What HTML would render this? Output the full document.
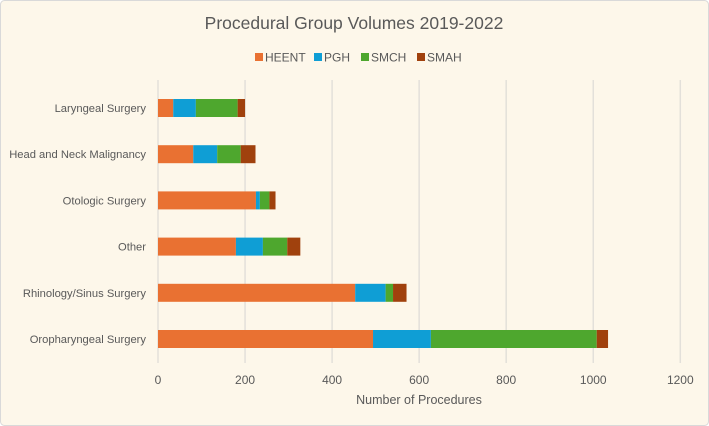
<!DOCTYPE html>
<html><head><meta charset="utf-8"><style>
body{margin:0;background:#fff;}
svg{display:block;font-family:"Liberation Sans",sans-serif;}
</style></head><body>
<svg id="chart" width="709" height="426" xmlns="http://www.w3.org/2000/svg">
<rect x="0.5" y="0.5" width="708" height="425" rx="4" fill="#fdf7ea" stroke="#d9d9d9"/>
<text x="354" y="29" text-anchor="middle" font-size="17.5" fill="#595959">Procedural Group Volumes 2019-2022</text>
<g id="legend"></g>
<g id="grid"></g>
<g id="bars"></g>
<g id="labels"></g>
<text x="419" y="404" text-anchor="middle" font-size="12.5" fill="#595959">Number of Procedures</text>
</svg>
<script>
const categories = ["Laryngeal Surgery","Head and Neck Malignancy","Otologic Surgery","Other","Rhinology/Sinus Surgery","Oropharyngeal Surgery"];
const seriesNames = ["HEENT","PGH","SMCH","SMAH"];
const heent = [35,81,225,179,453,494];
const pgh = [52,55,9,62,70,133];
const smch = [96,54,22,56,17,381];
const smah = [17,34,14,30,31,26];
const ticks = [0,200,400,600,800,1000,1200];
const colors = ["#e97132","#0f9ed5","#4ea72e","#a0410d"];
const NS="http://www.w3.org/2000/svg";
const x0=158, xs=(680.3-158)/1200;
const xScale=v=>x0+v*xs;
const yTop=108, yStep=46.2, bh=18;
const yScale=i=>yTop+i*yStep;
function mk(tag,attrs,parent){const e=document.createElementNS(NS,tag);for(const k in attrs)e.setAttribute(k,attrs[k]);parent.appendChild(e);return e;}
const grid=document.getElementById('grid'), bars=document.getElementById('bars'), labels=document.getElementById('labels'), legend=document.getElementById('legend');
ticks.forEach(t=>{
  const l=mk('line',{x1:xScale(t),x2:xScale(t),y1:80,y2:363,stroke:"#e3e0da","stroke-width":1.5},grid);
  
  
  const tx=mk('text',{x:xScale(t),y:384,"text-anchor":"middle","font-size":12,fill:"#595959"},labels);
  tx.textContent=t;
  
  
});
const series=[heent,pgh,smch,smah];
categories.forEach((c,i)=>{
  const cy=yScale(i);
  const tx=mk('text',{x:146,y:cy+4,"text-anchor":"end","font-size":11.2,fill:"#595959"},labels);
  tx.textContent=c;
  
  
  let acc=0;
  series.forEach((s,j)=>{
    const r=mk('rect',{x:xScale(acc),y:cy-bh/2,width:xScale(acc+s[i])-xScale(acc),height:bh,fill:colors[j]},bars);
    
    
    acc+=s[i];
  });
});
const lx=[255,314,361,417];
seriesNames.forEach((n,j)=>{
  const r=mk('rect',{x:lx[j],y:53,width:8,height:8,fill:colors[j]},legend);
  
  
  const t=mk('text',{x:lx[j]+10,y:61.5,"font-size":12,fill:"#595959"},legend);
  t.textContent=n;
  
  
});
</script>
</body></html>
